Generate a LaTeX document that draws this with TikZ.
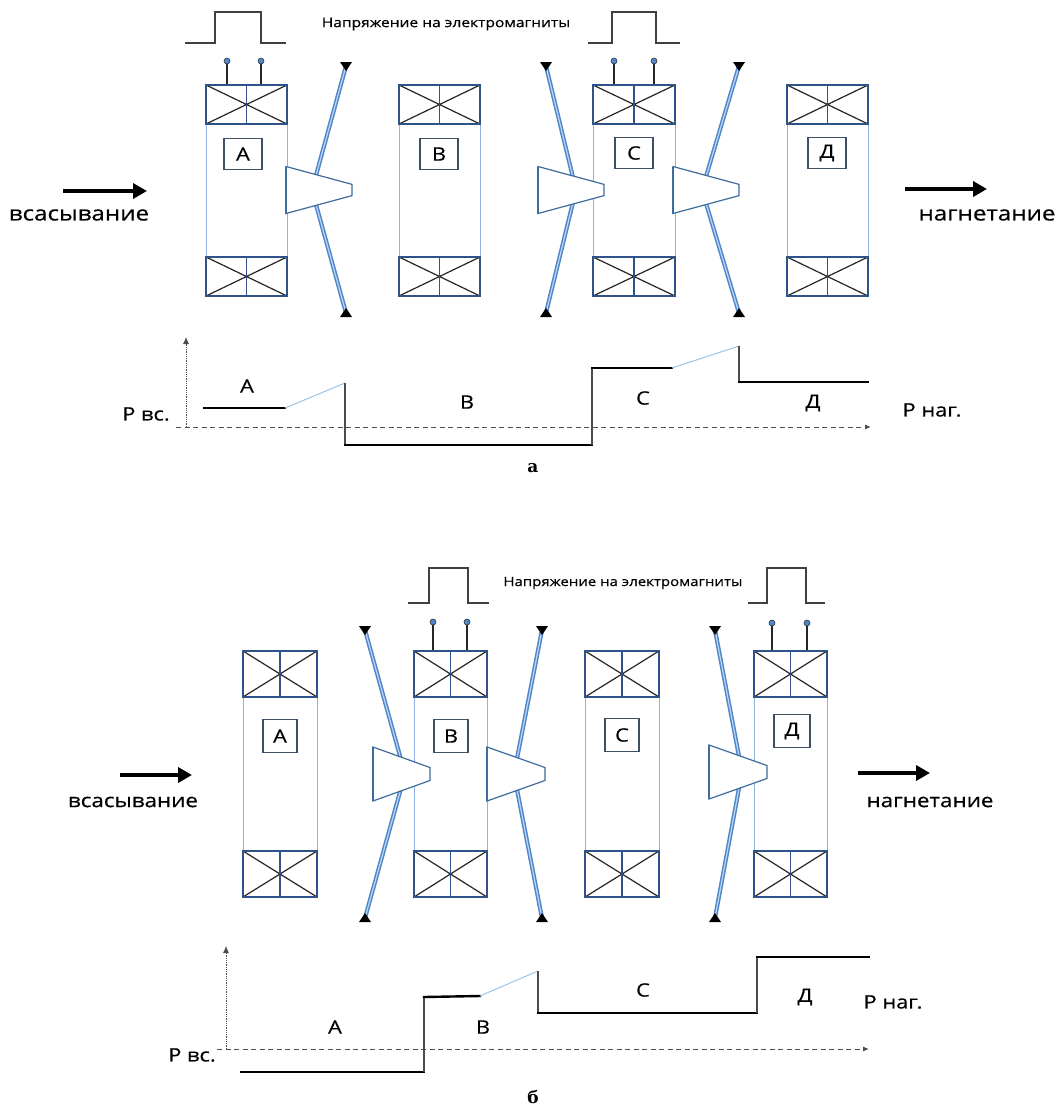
\documentclass[tikz,border=0pt]{standalone}
\usepackage{fontspec}
\setmainfont{Open Sans}[FakeStretch=1.18, FakeBold=0.4]
\newfontfamily\serifbold{DejaVu Serif}
\usetikzlibrary{arrows.meta}

\definecolor{windblue}{HTML}{2F5289}
\definecolor{tubeblue}{HTML}{8FB4E3}
\definecolor{tagblue}{HTML}{3F4F66}
\definecolor{flapblue}{HTML}{3E6C9C}
\definecolor{rodblue}{HTML}{4F86CC}
\definecolor{rodlight}{HTML}{BFD6F0}
\definecolor{slopeblue}{HTML}{9DC3E6}

\tikzset{
  winding/.style={draw=windblue, line width=1.3pt},
  xline/.style={draw=black!85, line width=1.2pt},
  tube/.style={draw=tubeblue, line width=0.8pt},
  tag/.style={draw=tagblue, line width=1.1pt, minimum width=38pt, minimum height=31pt, inner sep=0pt, font=\fontsize{18.5}{20}\selectfont},
  flap/.style={draw=flapblue, fill=white, line width=1.2pt},
  flapedge/.style={draw=flapblue, line width=2.2pt},
  rod/.style={draw=rodblue, double=rodlight, double distance=1.2pt, line width=1.5pt},
  wire/.style={draw=black!85, line width=1.8pt},
  pulseline/.style={draw=black!75, line width=1.2pt},
  volt/.style={font=\fontsize{13.2}{15}\selectfont},
  flow/.style={font=\fontsize{20.5}{23}\selectfont},
  flowarrow/.style={line width=4.5pt, -{Triangle[length=14pt,width=15pt]}},
  level/.style={line width=2.4pt, line cap=rect},
  jump/.style={draw=black!70, line width=1.3pt},
  slope/.style={draw=slopeblue, line width=1pt},
  plabel/.style={font=\fontsize{18.5}{20}\selectfont},
  haxis/.style={draw=black!70, line width=1pt, dash pattern=on 5pt off 3.5pt, -{Latex[length=6pt,width=5pt]}},
  vaxis/.style={draw=black!70, line width=0.8pt, densely dotted, -{Latex[length=7pt,width=6pt]}},
  sublabel/.style={font=\serifbold\bfseries\fontsize{17}{20}\selectfont}
}

% coil: left x, right x, top y, bottom y, winding block height
\newcommand{\coil}[5]{%
  \draw[tube] (#1,#3+#5) rectangle (#2,#4-#5);
  \foreach \ya/\yb in {#3/#3+#5, #4-#5/#4}{
    \draw[xline] (#1,\ya) -- (#2,\yb) (#1,\yb) -- (#2,\ya);
    \draw[winding] (#1,\ya) rectangle (#2,\yb) ({(#1+#2)/2},\ya) -- ({(#1+#2)/2},\yb);
  }
}
% valve: wide x, narrow x, centre y, half height, rod end x, rod bend x, rod top y, rod bottom y
\newcommand{\valve}[8]{%
  \draw[rod] (#5,#7) -- (#6,#3) -- (#5,#8);
  \fill (#5-6,#7-4) -- (#5+6,#7-4) -- (#5,#7+5) -- cycle;
  \fill (#5-6,#8+4) -- (#5+6,#8+4) -- (#5,#8-5) -- cycle;
  \filldraw[flap] (#1,#3-#4) -- (#2,#3-0.24*#4) -- (#2,#3+0.24*#4) -- (#1,#3+#4) -- cycle;
  \draw[flapedge] (#1,#3-#4) -- (#1,#3+#4);
}
% two coil leads: x1, x2, top y, bottom y
\newcommand{\leads}[4]{%
  \draw[wire] (#1,#3) -- (#1,#4) (#2,#3) -- (#2,#4);
  \filldraw[fill=rodblue, draw=black!80, line width=0.6pt] (#1,#3) circle (3pt) (#2,#3) circle (3pt);
}
% voltage pulse: start, rise, fall, end x, low y, high y
\newcommand{\pulse}[6]{%
  \draw[pulseline] (#1,#5) -- (#2,#5) -- (#2,#6) -- (#3,#6) -- (#3,#5) -- (#4,#5);
}

\begin{document}
\begin{tikzpicture}[x=1pt, y=-1pt]
\useasboundingbox[fill=white] (0,0) rectangle (1057,1106);

%% ---- variant a ----
\pulse{185}{215}{261}{286}{43}{12}
\pulse{588}{612}{656}{680}{43}{12}
\node[volt] (volta) at (446,24) {Напряжение на электромагниты};

\leads{227}{261}{61}{85}
\leads{614}{654}{61}{85}
\coil{206}{287}{85}{296}{39}
\coil{399}{480}{85}{296}{39}
\coil{593}{675}{85}{296}{39}
\coil{787}{868}{85}{296}{39}
\node[tag] (ca) at (243,154) {А};
\node[tag] (cb) at (439,154) {В};
\node[tag] (cc) at (634,153) {С};
\node[tag] (cd) at (827,153) {Д};

\valve{286}{352}{190}{23.5}{346}{312}{66}{313}
\valve{538}{604}{190}{23.5}{546}{576}{66}{313}
\valve{673}{739}{190}{23.5}{739}{702}{66}{313}

\coordinate (ina0) at (63,191);
\coordinate (ina1) at (147,191);
\draw[flowarrow] (ina0) -- (ina1);
\node[flow] (suca) at (79,215) {всасывание};
\coordinate (outa0) at (905,189);
\coordinate (outa1) at (987,189);
\draw[flowarrow] (outa0) -- (outa1);
\node[flow] (disa) at (987,215) {нагнетание};

% pressure along the stages
\coordinate (oa) at (186,427);
\draw[vaxis] (oa) -- (186,337);
\draw[haxis] (176,427) -- (871,427);
\draw[level] (204,408) -- (285,408);
\draw[slope] (285,408) -- (345,383);
\draw[jump] (345,383) -- (345,445);
\draw[level] (345,445) -- (592,445);
\draw[jump] (592,445) -- (592,368);
\draw[level] (592,368) -- (672,368);
\draw[slope] (672,368) -- (739,346);
\draw[jump] (739,346) -- (739,382);
\draw[level] (739,382) -- (868,382);
\node[plabel] (pa1) at (247,386) {А};
\node[plabel] (pa2) at (467,402) {В};
\node[plabel] (pa3) at (643,398) {С};
\node[plabel] (pa4) at (813,403) {Д};
\node[plabel] (pina) at (146,414) {Р вс.};
\node[plabel] (pouta) at (932,410) {Р наг.};
\node[sublabel] (suba) at (533,468) {а};

%% ---- variant b ----
\pulse{408}{429}{468}{489}{603}{568}
\pulse{748}{767}{806}{825}{603}{568}
\node[volt, font=\fontsize{12.7}{15}\selectfont] (voltb) at (623,583) {Напряжение на электромагниты};

\leads{433}{467}{622}{651}
\leads{772}{807}{623}{651}
\coil{243}{317}{651}{897}{46}
\coil{414}{487}{651}{897}{46}
\coil{585}{659}{651}{897}{46}
\coil{754}{827}{651}{897}{46}
\node[tag, minimum width=34pt, minimum height=33pt] (ba) at (280,736) {А};
\node[tag, minimum width=34pt, minimum height=33pt] (bb) at (451,736) {В};
\node[tag, minimum width=34pt, minimum height=33pt] (bc) at (622,735) {С};
\node[tag, minimum width=36pt, minimum height=33pt] (bd) at (792,731) {Д};

\valve{373}{430}{774}{27}{365}{405}{630}{918}
\valve{487}{545}{774}{27}{542}{514}{630}{918}
\valve{709}{767}{772}{27}{715}{742}{630}{918}

\coordinate (inb0) at (120,775);
\coordinate (inb1) at (192,775);
\draw[flowarrow] (inb0) -- (inb1);
\node[flow, font=\fontsize{19}{22}\selectfont] (sucb) at (133,802) {всасывание};
\coordinate (outb0) at (858,773);
\coordinate (outb1) at (930,773);
\draw[flowarrow] (outb0) -- (outb1);
\node[flow, font=\fontsize{19}{22}\selectfont] (disb) at (930,802) {нагнетание};

% pressure along the stages
\coordinate (ob) at (226,1049);
\draw[vaxis] (ob) -- (226,946);
\draw[haxis] (217,1049) -- (869,1049);
\draw[level] (241,1072) -- (424,1072);
\draw[jump] (424,1072) -- (424,997);
\draw[level] (424,997) -- (480,996);
\draw[slope] (480,996) -- (538,971);
\draw[jump] (538,971) -- (538,1013);
\draw[level] (538,1013) -- (757,1013);
\draw[jump] (757,1013) -- (757,957);
\draw[level] (757,957) -- (869,957);
\node[plabel] (pb1) at (335,1027) {А};
\node[plabel] (pb2) at (483,1027) {В};
\node[plabel] (pb3) at (643,990) {С};
\node[plabel] (pb4) at (805,997) {Д};
\node[plabel] (pinb) at (192,1055) {Р вс.};
\node[plabel] (poutb) at (893,1002) {Р наг.};
\node[sublabel] (subb) at (533,1097) {б};
\end{tikzpicture}
\end{document}
